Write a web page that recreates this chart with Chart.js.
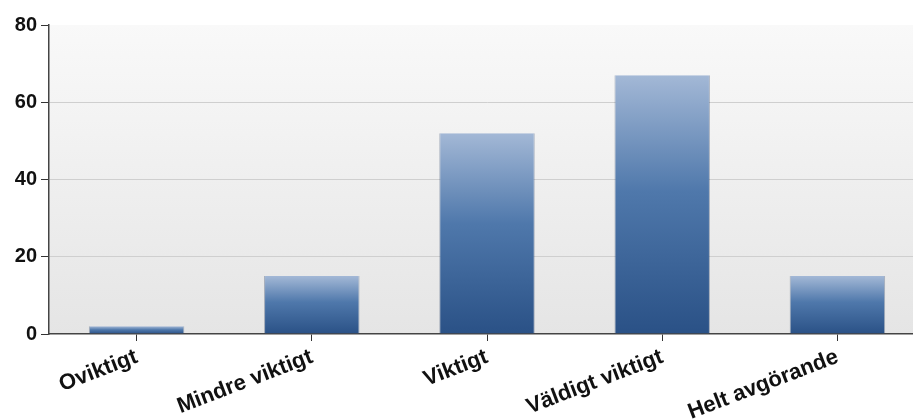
<!DOCTYPE html>
<html>
<head>
<meta charset="utf-8">
<script src="https://cdn.jsdelivr.net/npm/chart.js@4/dist/chart.umd.min.js"></script>
<style>
    html, body { margin: 0; padding: 0; background: #fff; overflow: hidden; }
    #wrap { position: relative; width: 925px; height: 419px; }
</style>
</head>
<body>
<div id="wrap"><canvas id="barChart"></canvas></div>
<script>
// ===============================
// Data
// ===============================
const categories = ['Oviktigt', 'Mindre viktigt', 'Viktigt', 'Väldigt viktigt', 'Helt avgörande'];
const values = [2, 15, 52, 67, 15];
const yTicks = [0, 20, 40, 60, 80];

// ===============================
// Plot background (light gradient)
// ===============================
const plotBackground = {
    id: 'plotBackground',
    beforeDraw(chart) {
        const { ctx, chartArea: a } = chart;
        const g = ctx.createLinearGradient(0, a.top, 0, a.bottom);
        g.addColorStop(0, '#f9f9f9');
        g.addColorStop(1, '#e5e5e5');
        ctx.save();
        ctx.fillStyle = g;
        ctx.fillRect(a.left, a.top, a.right - a.left, a.bottom - a.top);
        ctx.restore();
    }
};

// gradient per bar, from its own top to the base
function barFill(context) {
    const chart = context.chart;
    if (!chart.chartArea || context.raw == null) return '#3d659b';
    const y = chart.scales.y;
    const top = y.getPixelForValue(context.raw);
    const base = y.getPixelForValue(0);
    const g = chart.ctx.createLinearGradient(0, top, 0, base);
    g.addColorStop(0, '#a3b8d6');
    g.addColorStop(0.45, '#4f78ab');
    g.addColorStop(1, '#2a5186');
    return g;
}

const yFont = { family: '"Liberation Sans", Arial, sans-serif', size: 20, weight: 'bold' };
const xFont = { family: '"Liberation Sans", Arial, sans-serif', size: 22, weight: 'bold' };

document.addEventListener('DOMContentLoaded', () => {
    const ctx = document.getElementById('barChart').getContext('2d');
    new Chart(ctx, {
        type: 'bar',
        data: {
            labels: categories,
            datasets: [{
                data: values,
                backgroundColor: barFill,
                borderColor: 'rgba(30, 55, 95, 0.35)',
                borderWidth: { left: 1, right: 1, top: 0, bottom: 0 },
                categoryPercentage: 1,
                barPercentage: 0.545
            }]
        },
        options: {
            responsive: true,
            maintainAspectRatio: false,
            animation: false,
            layout: { padding: { top: 25, right: 0, left: 0, bottom: 0 } },
            plugins: { legend: { display: false }, tooltip: { enabled: false } },
            scales: {
                x: {
                    afterFit: s => { s.height = 85; },
                    grid: { offset: false, drawOnChartArea: false, tickLength: 7, tickColor: '#333' },
                    border: { color: '#444', width: 1.5 },
                    ticks: { color: '#111', font: xFont, maxRotation: 21, minRotation: 21, padding: 3 }
                },
                y: {
                    min: 0,
                    max: 80,
                    afterFit: s => { s.width = 49; },
                    afterBuildTicks: s => { s.ticks = yTicks.map(v => ({ value: v })); },
                    grid: {
                        color: c => (c.tick && (c.tick.value === 80 || c.tick.value === 0)) ? 'rgba(0,0,0,0)' : '#cfcfcf',
                        tickColor: '#333',
                        tickLength: 8
                    },
                    border: { color: '#444', width: 1.5 },
                    ticks: { color: '#111', font: yFont, padding: 4 }
                }
            }
        },
        plugins: [plotBackground]
    });
});
</script>
</body>
</html>
